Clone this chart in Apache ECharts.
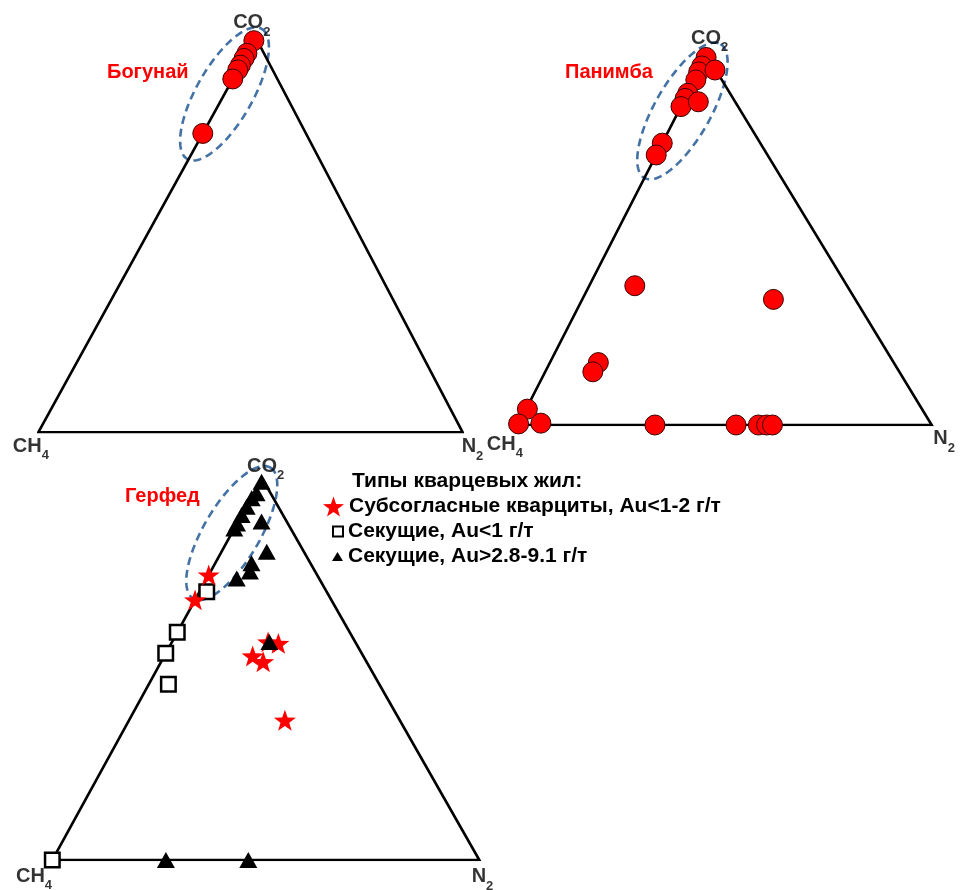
<!DOCTYPE html>
<html>
<head>
<meta charset="utf-8">
<script src="https://cdn.jsdelivr.net/npm/echarts@6/dist/echarts.min.js"></script>
<style>
  html, body { margin: 0; padding: 0; background: #fff; }
  #chart { width: 960px; height: 890px; }
</style>
</head>
<body>
<div id="chart"></div>
<script>
// Gas composition of fluid inclusions, each point is [CO2, CH4, N2] in mol.%
const bogunay = [
  [99.2, 0.8, 0], [96.0, 4.0, 0], [94.7, 5.3, 0], [93.0, 7.0, 0],
  [91.8, 8.2, 0], [89.5, 10.5, 0], [75.7, 24.3, 0]
];
const panimba = [
  [99.5, 0.5, 0], [97.2, 2.8, 0], [95.6, 4.4, 0], [96.1, 0.2, 3.7],
  [93.4, 6.3, 0.3], [89.8, 10.2, 0], [88.4, 11.6, 0], [86.2, 13.8, 0],
  [87.5, 8.9, 3.6], [76.3, 23.7, 0], [73.1, 26.9, 0],
  [37.7, 51.3, 11.0], [34.0, 19.8, 46.2], [16.9, 71.4, 11.7], [14.4, 74.1, 11.5],
  [4.3, 95.4, 0.3], [0.3, 99.7, 0], [0.5, 94.2, 5.3],
  [0, 66.9, 33.1], [0, 47.3, 52.7], [0, 41.9, 58.1], [0, 39.9, 60.1], [0, 38.5, 61.5]
];
// Герфед: three vein types
const gerfedConcordant = [
  [74.6, 25.4, 0], [68.1, 31.9, 0], [57.1, 20.4, 22.5], [56.7, 18.2, 25.1],
  [53.4, 25.9, 20.7], [51.9, 24.2, 23.9], [36.6, 26.9, 36.5]
];
const gerfedCrossLow = [
  [70.2, 28.1, 1.7], [59.6, 40.4, 0], [54.1, 45.9, 0], [46.0, 49.4, 4.6], [0, 100, 0]
];
const gerfedCrossHigh = [
  [99.0, 0.6, 0.4], [96.0, 3.3, 0.7], [94.7, 5.1, 0.2], [92.5, 7.4, 0.1],
  [90.3, 9.7, 0], [88.1, 11.9, 0], [86.8, 13.2, 0], [88.6, 5.9, 5.5],
  [80.7, 8.7, 10.6], [77.7, 13.8, 8.5], [75.5, 15.3, 9.2], [73.7, 19.3, 7.0],
  [57.1, 20.1, 22.8], [0, 73.4, 26.6], [0, 54.1, 45.9]
];

const panelTitles = ['Богунай', 'Панимба', 'Герфед'];
const legendTitle = 'Типы кварцевых жил:';
const typeNames = [
  'Субсогласные кварциты, Au<1-2 г/т',
  'Секущие, Au<1 г/т',
  'Секущие, Au>2.8-9.1 г/т'
];
// vertex captions with subscripts: CH4 (left), N2 (right), CO2 (apex)
const vertexCaptions = ['{m|CH}{s|4}', '{m|N}{s|2}', '{m|CO}{s|2}'];
// composition around which each field is outlined (CO2, CH4, N2)
const fieldCenters = [[85.7, 14.3, 0], [85.0, 14.1, 0.9], [85.6, 14.4, 0]];

const FONT = '"Liberation Sans", Arial, sans-serif';
const RED = '#ff0000';

// Plot frames of the three diagrams; apex = relative x of the CO2 corner
const panels = [
  { left: 38.3, top: 37.5, width: 424.4, height: 394.8, apex: 0.512,
    capOffsets: [[-7.5, 3.4], [9.8, 3.7], [-3.8, -4.5]], titlePos: [107, 72],
    ellipse: { rx: 75, ry: 28, angle: -60.3 } },
  { left: 518, top: 55.6, width: 413.7, height: 369.4, apex: 0.457,
    capOffsets: [[-13.2, 8.7], [12.4, 3.4], [2.6, -7.0]], titlePos: [565, 72],
    ellipse: { rx: 77, ry: 28, angle: -60.4 } },
  { left: 52.3, top: 478, width: 427, height: 382, apex: 0.491,
    capOffsets: [[-18.3, 5.7], [3.2, 6.4], [3.6, -1.5]], titlePos: [125, 496],
    ellipse: { rx: 76, ry: 28, angle: -59.5 } }
];

// ternary composition -> frame coordinates (x along CH4-N2 base, y toward CO2)
function toXY(comp, apex) {
  const s = comp[0] + comp[1] + comp[2];
  const c = comp[0] / s, n = comp[2] / s;
  return [n + c * apex, c];
}

const STAR = 'path://M0,-10 L2.35,-3.24 L9.51,-3.09 L3.80,1.24 L5.88,8.09 L0,4 L-5.88,8.09 L-3.80,1.24 L-9.51,-3.09 L-2.35,-3.24 Z';

const grid = [], xAxis = [], yAxis = [], series = [];
panels.forEach((p, i) => {
  grid.push({ left: p.left, top: p.top, width: p.width, height: p.height });
  xAxis.push({ gridIndex: i, type: 'value', min: 0, max: 1, show: false });
  yAxis.push({ gridIndex: i, type: 'value', min: 0, max: 1, show: false });
  const L = [0, 0], R = [1, 0], A = [p.apex, 1];
  series.push({
    type: 'line', xAxisIndex: i, yAxisIndex: i, symbol: 'none', silent: true, z: 1,
    lineStyle: { color: '#000', width: 2.6, join: 'miter' },
    data: [L, R, A, L, R]
  });
  const capPos = ['bottom', 'bottom', 'top'];
  series.push({
    type: 'scatter', xAxisIndex: i, yAxisIndex: i, symbolSize: 1, silent: true, z: 1,
    itemStyle: { color: 'rgba(0,0,0,0)' },
    data: [L, R, A].map((v, k) => ({
      value: v,
      label: {
        show: true, position: capPos[k], distance: 0, offset: p.capOffsets[k],
        formatter: vertexCaptions[k],
        rich: {
          m: { fontSize: 20, fontWeight: 'bold', fontFamily: FONT, color: '#000', lineHeight: 20, verticalAlign: 'top' },
          s: { fontSize: 13, fontWeight: 'bold', fontFamily: FONT, color: '#000', lineHeight: 13, padding: [13, 0, 0, 0], verticalAlign: 'top' }
        }
      }
    }))
  });
});

const circleStyle = { color: RED, borderColor: '#3a0000', borderWidth: 1, opacity: 1 };
series.push({
  name: panelTitles[0], type: 'scatter', xAxisIndex: 0, yAxisIndex: 0, z: 3, clip: false,
  symbol: 'circle', symbolSize: 20, itemStyle: circleStyle,
  data: bogunay.map(c => toXY(c, panels[0].apex))
});
series.push({
  name: panelTitles[1], type: 'scatter', xAxisIndex: 1, yAxisIndex: 1, z: 3, clip: false,
  symbol: 'circle', symbolSize: 20, itemStyle: circleStyle,
  data: panimba.map(c => toXY(c, panels[1].apex))
});
series.push({
  name: typeNames[1], type: 'scatter', xAxisIndex: 2, yAxisIndex: 2, z: 3, clip: false,
  symbol: 'rect', symbolSize: 14.5,
  itemStyle: { color: '#fff', borderColor: '#000', borderWidth: 2.5, opacity: 1 },
  data: gerfedCrossLow.map(c => toXY(c, panels[2].apex))
});
series.push({
  name: typeNames[0], type: 'scatter', xAxisIndex: 2, yAxisIndex: 2, z: 3, clip: false,
  symbol: STAR, symbolSize: 22, symbolKeepAspect: true,
  itemStyle: { color: RED, opacity: 1 },
  data: gerfedConcordant.map(c => toXY(c, panels[2].apex))
});
series.push({
  name: typeNames[2], type: 'scatter', xAxisIndex: 2, yAxisIndex: 2, z: 3, clip: false,
  symbol: 'triangle', symbolSize: [18, 16],
  itemStyle: { color: '#000', opacity: 1 },
  data: gerfedCrossHigh.map(c => toXY(c, panels[2].apex))
});

const legendText = { fontSize: 21, fontWeight: 'bold', color: '#000', fontFamily: FONT };
const legend = [
  { data: [typeNames[0]], left: 323, top: 496, itemWidth: 21, itemHeight: 21, itemGap: 0, padding: 0, selectedMode: false, textStyle: legendText },
  { data: [typeNames[1]], left: 332, top: 521, itemWidth: 10, itemHeight: 10, itemGap: 0, padding: 0, selectedMode: false, textStyle: legendText },
  { data: [typeNames[2]], left: 332, top: 546, itemWidth: 11, itemHeight: 9, itemGap: 0, padding: 0, selectedMode: false, textStyle: legendText }
];

const titleGraphics = panels.map((p, i) => ({
  type: 'text', x: p.titlePos[0], y: p.titlePos[1], z: 10,
  style: { text: panelTitles[i], fill: RED, font: 'bold 20px ' + FONT, verticalAlign: 'middle', textVerticalAlign: 'middle' }
}));
titleGraphics.push({
  type: 'text', x: 352, y: 481, z: 10,
  style: { text: legendTitle, fill: '#000', font: 'bold 21px ' + FONT, verticalAlign: 'middle', textVerticalAlign: 'middle' }
});

const chart = echarts.init(document.getElementById('chart'), null, { renderer: 'canvas' });
chart.setOption({
  animation: false,
  backgroundColor: '#fff',
  grid, xAxis, yAxis, series, legend,
  graphic: titleGraphics
});

// dashed outlines around the CO2-rich fields
const outlines = panels.map((p, i) => {
  const c = chart.convertToPixel({ gridIndex: i }, toXY(fieldCenters[i], p.apex));
  const e = p.ellipse, phi = e.angle * Math.PI / 180;
  const pts = [];
  for (let k = 0; k < 120; k++) {
    const t = k / 120 * Math.PI * 2;
    const ex = e.rx * Math.cos(t), ey = e.ry * Math.sin(t);
    pts.push([c[0] + ex * Math.cos(phi) - ey * Math.sin(phi), c[1] + ex * Math.sin(phi) + ey * Math.cos(phi)]);
  }
  return {
    type: 'polygon', z: 0, silent: true,
    shape: { points: pts },
    style: { fill: null, stroke: '#4472a4', lineWidth: 2.6, lineDash: [8, 5] }
  };
});
chart.setOption({ graphic: titleGraphics.concat(outlines) });
</script>
</body>
</html>
